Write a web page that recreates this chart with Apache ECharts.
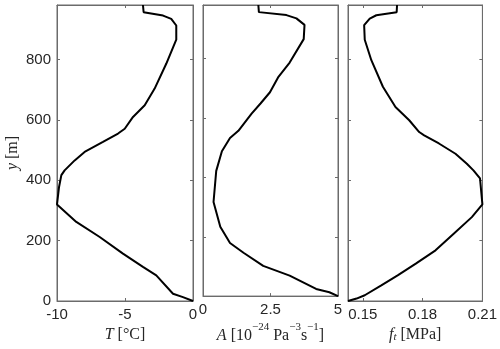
<!DOCTYPE html>
<html>
<head>
<meta charset="utf-8">
<script src="https://cdn.jsdelivr.net/npm/echarts@6/dist/echarts.min.js"></script>
<style>
  html, body { margin: 0; padding: 0; background: #fff; }
  #chart { width: 500px; height: 349px; }
</style>
</head>
<body>
<div id="chart"></div>
<script>
// depth profiles, depth in m
var tDepth = [981, 957, 946, 935, 913, 866, 787, 704, 649, 610, 571, 555, 527, 494, 466, 433, 417, 378, 320, 262, 212, 157, 113, 85, 24, 13, 0];
var tVal   = [-3.68, -3.63, -2.2, -1.6, -1.23, -1.23, -1.96, -2.82, -3.55, -4.41, -5.02, -5.51, -6.62, -7.97, -8.7, -9.44, -9.68, -9.85, -10, -8.58, -6.86, -5.15, -3.68, -2.7, -1.47, -0.74, 0];

var aDepth = [981, 957, 947, 936, 914, 866, 787, 737, 687, 649, 615, 557, 533, 488, 422, 317, 234, 179, 146, 102, 69, 24, 13, 0];
var aVal   = [2.05, 2.07, 3.09, 3.46, 3.76, 3.73, 3.21, 2.78, 2.48, 2.13, 1.8, 1.31, 1.0, 0.7, 0.49, 0.39, 0.64, 1.0, 1.5, 2.23, 3.21, 4.19, 4.68, 5.0];

var fDepth = [981, 957, 947, 936, 914, 866, 798, 710, 643, 599, 560, 549, 522, 488, 455, 433, 406, 320, 278, 223, 168, 124, 85, 52, 19, 8, 0];
var fVal   = [0.1672, 0.167, 0.1568, 0.1535, 0.1507, 0.151, 0.1543, 0.1601, 0.1664, 0.1733, 0.1783, 0.1808, 0.1882, 0.1965, 0.2022, 0.2055, 0.2088, 0.21, 0.2047, 0.1956, 0.1865, 0.1766, 0.1675, 0.1593, 0.151, 0.1469, 0.1426];

var yTicks = [0, 200, 400, 600, 800];
var tTicks = [-10, -5, 0];
var aTicks = [0, 2.5, 5];
var fTicks = [0.15, 0.18, 0.21];
var fLabels = ['0.15', '0.18', '0.21'];

function pairs(xs, ys){
    var out = [];
    for (var i = 0; i < xs.length; i++){
        out.push([xs[i], ys[i]]);
    }
    return out;
}

var frame = '#6b6b6b';
var txt = '#262626';
var serif = 'Liberation Serif';

// rich styles for the latex-like axis titles
var richText = {
    it: {fontStyle: 'italic', fontFamily: serif, fontSize: 16, color: txt, lineHeight: 22, verticalAlign: 'bottom'},
    up: {fontFamily: serif, fontSize: 16, color: txt, lineHeight: 22, verticalAlign: 'bottom'},
    sup: {fontFamily: serif, fontSize: 11, color: txt, lineHeight: 12, verticalAlign: 'top'},
    sub: {fontStyle: 'italic', fontFamily: serif, fontSize: 11, color: txt, lineHeight: 6, verticalAlign: 'bottom'}
};

// one x axis (bottom or top) of a panel
function xAx(idx, pos, min, max, ticks, name, labels){
    return {
        type: 'value', gridIndex: idx, position: pos,
        min: min, max: max,
        name: pos == 'bottom' ? name : '',
        nameLocation: 'middle', nameGap: 20,
        nameTextStyle: {color: txt, fontFamily: serif, fontSize: 16, rich: richText},
        splitLine: {show: false},
        axisLine: {show: true, onZero: false, lineStyle: {color: frame, width: 1}},
        axisTick: {show: true, inside: true, length: 3, customValues: ticks, lineStyle: {color: frame}},
        axisLabel: {
            show: pos == 'bottom', customValues: ticks, margin: 6,
            color: txt, fontFamily: 'Liberation Sans', fontSize: 15,
            formatter: function(v){
                if (labels){
                    for (var i = 0; i < ticks.length; i++){
                        if (Math.abs(ticks[i] - v) < 1e-6) return labels[i];
                    }
                }
                return String(v);
            }
        }
    };
}

function yAx(idx, pos, showLabel){
    var ax = {
        type: 'value', gridIndex: idx, position: pos,
        min: 0, max: 981,
        splitLine: {show: false},
        axisLine: {show: true, onZero: false, lineStyle: {color: frame, width: 1}},
        axisTick: {show: true, inside: true, length: 3, customValues: yTicks, lineStyle: {color: frame}},
        axisLabel: {
            show: showLabel, customValues: yTicks, margin: 6,
            color: txt, fontFamily: 'Liberation Sans', fontSize: 15
        }
    };
    if (showLabel){
        ax.name = '{it|y}{up| [m]}';
        ax.nameLocation = 'middle';
        ax.nameGap = 36;
        ax.nameTextStyle = {color: txt, fontFamily: serif, fontSize: 16, rich: richText};
    }
    return ax;
}

function box(left, width){
    return {left: left, top: 5, width: width, height: 296, show: true, borderColor: frame, borderWidth: 1, backgroundColor: 'transparent'};
}

var grids = [box(57, 136), box(203, 135), box(348, 136)];

var xAxes = [
    xAx(0, 'bottom', -10, 0, tTicks, '{it|T}{up| [°C]}'),
    xAx(1, 'bottom', 0, 5, aTicks, '{it|A}{up| [10}{sup|−24}{up| Pa}{sup|−3}{up|s}{sup|−1}{up|]}'),
    xAx(2, 'bottom', 0.1426, 0.21, fTicks, '{it|f}{sub|t}{up| [MPa]}', fLabels),
    xAx(0, 'top', -10, 0, tTicks, ''),
    xAx(1, 'top', 0, 5, aTicks, ''),
    xAx(2, 'top', 0.1426, 0.21, fTicks, '', fLabels)
];

var yAxes = [
    yAx(0, 'left', true),
    yAx(1, 'left', false),
    yAx(2, 'left', false),
    yAx(0, 'right', false),
    yAx(1, 'right', false),
    yAx(2, 'right', false)
];

function profile(idx, xs, ys){
    return {
        type: 'line', xAxisIndex: idx, yAxisIndex: idx,
        data: pairs(xs, ys),
        showSymbol: false, symbol: 'none', silent: true,
        lineStyle: {color: '#000', width: 2},
        clip: true, animation: false
    };
}

var chart = echarts.init(document.getElementById('chart'), null, {renderer: 'canvas'});
chart.setOption({
    animation: false,
    grid: grids,
    xAxis: xAxes,
    yAxis: yAxes,
    series: [
        profile(0, tVal, tDepth),
        profile(1, aVal, aDepth),
        profile(2, fVal, fDepth)
    ]
});
</script>
</body>
</html>
